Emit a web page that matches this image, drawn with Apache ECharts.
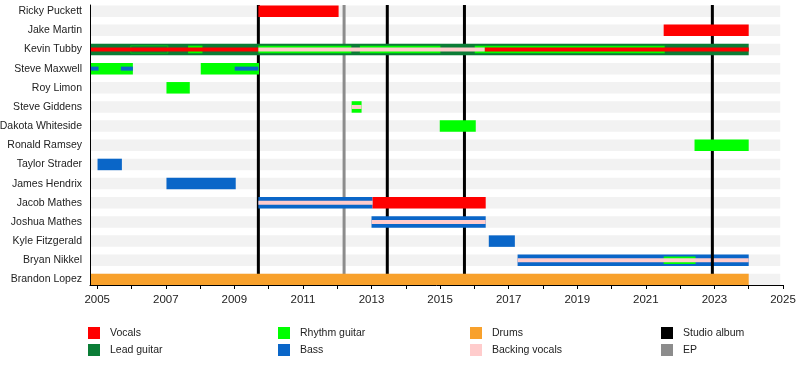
<!DOCTYPE html>
<html><head><meta charset="utf-8">
<script src="https://cdn.jsdelivr.net/npm/echarts@6/dist/echarts.min.js"></script>
<style>html,body{margin:0;padding:0;background:#fff}#c{width:800px;height:365px}</style>
</head><body><div id="c"></div>
<script>
// ---------- data ----------
const members = ['Ricky Puckett','Jake Martin','Kevin Tubby','Steve Maxwell','Roy Limon','Steve Giddens','Dakota Whiteside','Ronald Ramsey','Taylor Strader','James Hendrix','Jacob Mathes','Joshua Mathes','Kyle Fitzgerald','Bryan Nikkel','Brandon Lopez'];
const periodStart = 2004.79, periodEnd = 2024.0;
// [memberIndex, start, end, level]  level: 3 full, 2 mid, 1 thin, 0 hairline
const vocals = [
  [0, 2009.70, 2012.04, 3],
  [1, 2021.52, 2024.0, 3],
  [2, 2004.79, 2009.70, 1],
  [2, 2016.30, 2024.0, 1],
  [10, 2013.03, 2016.33, 3]
];
const leadGuitar = [[2, 2004.79, 2024.0, 3]];
const rhythmGuitar = [
  [2, 2005.98, 2007.06, 0],
  [2, 2007.65, 2008.07, 2],
  [2, 2009.70, 2012.41, 2],
  [2, 2012.66, 2015.01, 2],
  [2, 2016.01, 2021.55, 2],
  [3, 2004.79, 2006.04, 3],
  [3, 2008.02, 2009.72, 3],
  [4, 2007.02, 2007.70, 3],
  [5, 2012.42, 2012.71, 3],
  [6, 2014.99, 2016.04, 3],
  [7, 2022.42, 2024.0, 3],
  [13, 2021.52, 2022.45, 2]
];
const bass = [
  [3, 2004.79, 2005.04, 1],
  [3, 2005.69, 2006.04, 1],
  [3, 2009.01, 2009.70, 1],
  [8, 2005.01, 2005.72, 3],
  [9, 2007.02, 2009.04, 3],
  [10, 2009.70, 2013.03, 3],
  [11, 2013.00, 2016.33, 3],
  [12, 2016.42, 2017.18, 3],
  [13, 2017.26, 2024.0, 3]
];
const drums = [[14, 2004.79, 2024.0, 3]];
const backingVocals = [
  [2, 2009.70, 2016.30, 1],
  [5, 2012.42, 2012.71, 1],
  [10, 2009.70, 2013.03, 1],
  [11, 2013.00, 2016.33, 1],
  [13, 2017.26, 2024.0, 1]
];
const studioAlbums = [2009.70, 2013.46, 2015.71, 2022.94];
const eps = [2012.20];
const tickYears = [2005,2006,2007,2008,2009,2010,2011,2012,2013,2014,2015,2016,2017,2018,2019,2020,2021,2022,2023,2024,2025];
const labelYears = [2005,2007,2009,2011,2013,2015,2017,2019,2021,2023,2025];
const behindLines = [13];

// ---------- chart ----------
const FONT = 'Liberation Sans, Arial, sans-serif';
const chart = echarts.init(document.getElementById('c'), null, {renderer:'canvas'});
const heightFrac = {3:0.6, 2:0.4, 1:0.21, 0:0.38};

function barSeries(name, color, data, z) {
  return {
    type:'custom', name, z, itemStyle:{color},
    encode:{x:[1,2], y:0},
    data: data,
    renderItem(params, api) {
      const d = data[params.dataIndex];
      const row = d[0];
      const a = api.coord([d[1], row]);
      const b = api.coord([d[2], row]);
      const rowPx = api.size([0,1])[1];
      const h = rowPx * heightFrac[d[3]];
      if (d[3] === 0) {
        return {type:'rect', z2:2, shape:{x:a[0], y:a[1]-h/2, width:b[0]-a[0], height:h},
          style:{fill:'none', stroke:color, lineWidth:1, opacity:0.5}};
      }
      return {type:'rect', z2:d[3] === 3 ? 1 : (d[3] === 2 ? 2 : 3),
        shape:{x:a[0], y:a[1]-h/2, width:b[0]-a[0], height:h},
        style:{fill:color}};
    }
  };
}
function lineSeries(name, color, years) {
  return {
    type:'custom', name, z:3, itemStyle:{color},
    encode:{x:0},
    data: years.map(v => [v]),
    renderItem(params, api) {
      const cs = params.coordSys;
      const x = api.coord([api.value(0), 0])[0];
      return {type:'line', shape:{x1:x, y1:cs.y, x2:x, y2:cs.y+cs.height},
        style:{stroke:color, lineWidth:3}};
    }
  };
}

const roles = [
  ['Lead guitar', '#0b7d36', leadGuitar],
  ['Drums', '#f8a12c', drums],
  ['Bass', '#0a66c8', bass],
  ['Rhythm guitar', '#00ff00', rhythmGuitar],
  ['Vocals', '#ff0000', vocals],
  ['Backing vocals', '#ffcccc', backingVocals]
];
const series = [];
series.push({
  type:'custom', name:'stripes', z:1, silent:true,
  encode:{x:[1,2], y:0},
  data: members.map((m,i) => [i, periodStart, 2024.92]),
  renderItem(params, api) {
    const a = api.coord([api.value(1), api.value(0)]);
    const b = api.coord([api.value(2), api.value(0)]);
    const h = api.size([0,1])[1] * 0.6;
    return {type:'rect', shape:{x:a[0], y:a[1]-h/2, width:b[0]-a[0], height:h}, style:{fill:'#f2f2f2'}};
  }
});
roles.forEach(([name, color, data]) => {
  const back = data.filter(d => behindLines.includes(d[0]));
  const front = data.filter(d => !behindLines.includes(d[0]));
  if (back.length) series.push(barSeries(name, color, back, 2));
  if (front.length) series.push(barSeries(name, color, front, 4));
});
series.push(lineSeries('Studio album', '#000000', studioAlbums));
series.push(lineSeries('EP', '#8c8c8c', eps));

function legendCol(left, names) {
  return {left, top:327, padding:0, orient:'vertical', icon:'rect', itemWidth:12, itemHeight:12, itemGap:5,
    selectedMode:false,
    textStyle:{fontSize:10.5, color:'#222', fontFamily:FONT, padding:[0,0,0,5]}, data:names};
}

chart.setOption({
  animation:false,
  backgroundColor:'#fff',
  textStyle:{fontFamily:FONT},
  grid:{left:90, right:17, top:5, height:280, containLabel:false, outerBoundsMode:'none'},
  xAxis:{type:'value', min:periodStart, max:2025, z:6,
    axisLine:{show:true, onZero:false, lineStyle:{color:'#000', width:1}},
    axisTick:{show:true, customValues:tickYears, length:4, lineStyle:{color:'#000'}},
    axisLabel:{customValues:labelYears, formatter:v => String(Math.round(v)), fontSize:11.5, color:'#222', margin:9, fontFamily:FONT},
    splitLine:{show:false}},
  yAxis:{type:'value', inverse:true, min:-0.32, max:14.29, z:6,
    axisLine:{show:true, onZero:false, lineStyle:{color:'#000', width:1}},
    axisTick:{show:false},
    axisLabel:{customValues:members.map((m,i)=>i), formatter:v => members[Math.round(v)], fontSize:10.5, color:'#222', margin:8, fontFamily:FONT},
    splitLine:{show:false}},
  legend:[
    legendCol(88, ['Vocals','Lead guitar']),
    legendCol(278, ['Rhythm guitar','Bass']),
    legendCol(470, ['Drums','Backing vocals']),
    legendCol(661, ['Studio album','EP'])
  ],
  series
});
</script></body></html>
